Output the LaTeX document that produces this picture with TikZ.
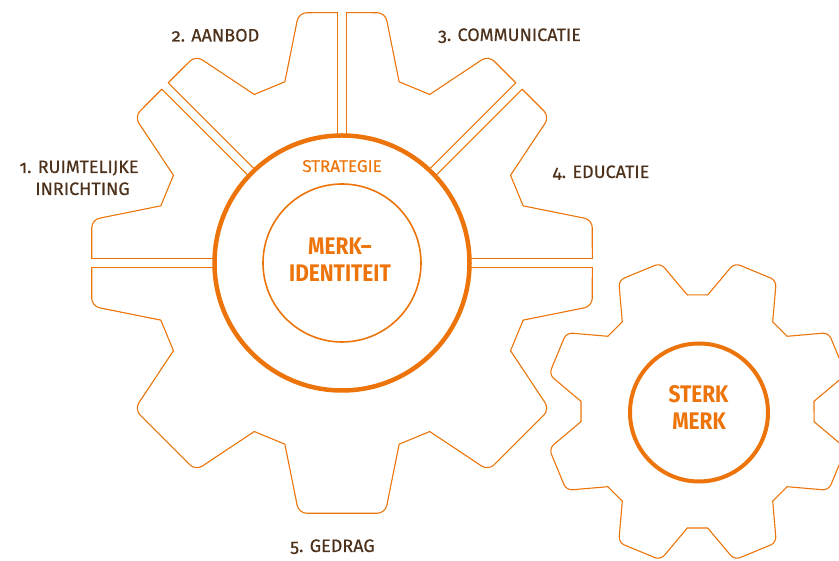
\documentclass[tikz,border=0pt]{standalone}
\usepackage{fontspec}
\setmainfont{Fira Sans}[Numbers=OldStyle]
\definecolor{org}{RGB}{236,116,10}
\definecolor{brn}{RGB}{77,49,26}
\begin{document}
\begin{tikzpicture}[x=1pt,y=1pt,
  gearline/.style={draw=org, line width=1.1pt, line cap=round, line join=round},
  lbl/.style={text=brn, font=\fontsize{18}{20}\selectfont\addfontfeatures{FakeBold=0.4}, inner sep=0pt, anchor=base},
  olbl/.style={text=org, font=\fontsize{17}{20}\selectfont\addfontfeatures{FakeBold=0.3}, inner sep=0pt, anchor=base},
  blbl/.style={text=org, font=\fontsize{24}{26}\selectfont\bfseries\addfontfeatures{FakeStretch=0.87}, inner sep=0pt, anchor=base}]
\useasboundingbox (0,0) rectangle (839,561);
\clip (0,0) rectangle (839,561);
% big gear
\begin{scope}[shift={(342,298)}]
  \foreach \a in {225,270,315}{
    \begin{scope}[rotate=\a]
      \draw[gearline, rounded corners=8pt] (-17.5:190) -- (-9.8:254) -- (9.8:254) -- (17.5:190);
    \end{scope}}
  \foreach \a in {0,45,90,135,180}{
    \begin{scope}[rotate=\a]
      \draw[gearline, rounded corners=8pt] (-17.5:190) -- (-9.8:254) -- (250.3,-4.5);
      \draw[gearline] (250.3,-4.5) -- (127,-4.5);
      \draw[gearline, rounded corners=8pt] (17.5:190) -- (9.8:254) -- (250.3,4.5);
      \draw[gearline] (250.3,4.5) -- (127,4.5);
    \end{scope}}
  \foreach \a in {0,45,...,315}{
    \draw[gearline, rotate=\a] (17.5:190) -- (27.5:190);}
\end{scope}
\draw[org, line width=4.5pt] (342,298) circle (127.5);
\draw[org, line width=1.6pt] (342,298) circle (79);
% small gear
\begin{scope}[shift={(697.5,149.5)}]
  \foreach \a in {22.5,67.5,...,337.5}{
    \begin{scope}[rotate=\a]
      \draw[gearline, rounded corners=6pt] (-17.5:117) -- (-8.5:153) -- (8.5:153) -- (17.5:117);
      \draw[gearline] (17.5:117) -- (27.5:117);
    \end{scope}}
\end{scope}
\draw[org, line width=4pt] (699,148.5) circle (69);
% labels
\node[lbl] (l1a) at (79,388) {1. RUIMTELIJKE};
\node[lbl] (l1b) at (82.5,366) {INRICHTING};
\node[lbl] (l2) at (215.5,519.5) {2. AANBOD};
\node[lbl] (l3) at (509.5,520) {3. COMMUNICATIE};
\node[lbl] (l4) at (601,383) {4. EDUCATIE};
\node[lbl] (l5) at (332.5,9) {5. GEDRAG};
\node[olbl] (strat) at (342,389) {STRATEGIE};
\node[blbl] (mi1) at (340,306) {MERK--};
\node[blbl] (mi2) at (340,279) {IDENTITEIT};
\node[blbl] (sm1) at (698.5,158) {STERK};
\node[blbl] (sm2) at (699,131) {MERK};
\end{tikzpicture}
\end{document}
